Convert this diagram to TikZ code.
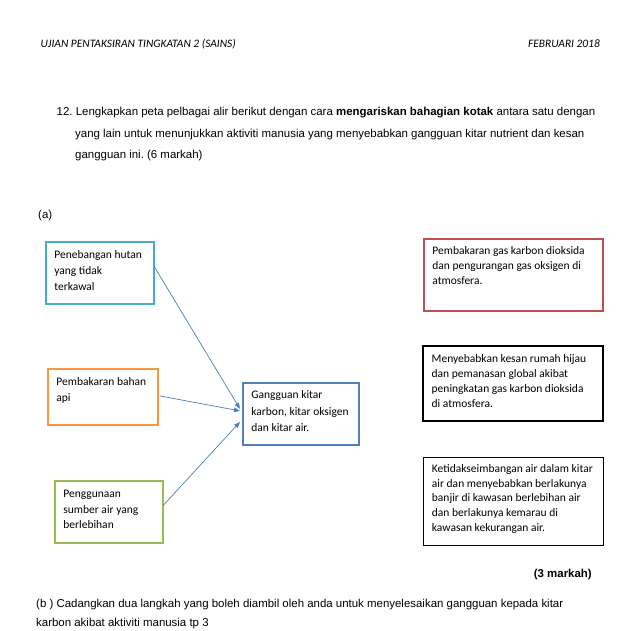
\documentclass[tikz,border=0pt]{standalone}
\usepackage{fontspec}
\setmainfont{Liberation Sans}
\newfontfamily\carlito{Carlito}
\usetikzlibrary{arrows.meta}
\frenchspacing
\definecolor{cteal}{HTML}{4BACC6}
\definecolor{corange}{HTML}{F79646}
\definecolor{cgreen}{HTML}{9BBB59}
\definecolor{cblue}{HTML}{4F81BD}
\definecolor{cred}{HTML}{C0504D}
\definecolor{carrow}{HTML}{4A7EBB}
% #1 height, #2 width, #3 baselineskip, #4 first baseline, #5 text
\newcommand{\boxtxt}[5]{\parbox[t][#1][t]{#2}{\carlito\fontsize{11.5}{#3}\selectfont\leftskip=8.5pt\rightskip=0pt plus 1fil\parindent=0pt\rule{0pt}{#4}#5\par}}
\begin{document}
\begin{tikzpicture}[x=1pt,y=-1pt,
  bx/.style={inner sep=0pt, anchor=north west},
  body/.style={anchor=base west, inner sep=0pt, font=\fontsize{11.45}{13}\selectfont},
  hdr/.style={inner sep=0pt, font=\carlito\itshape\fontsize{11.4}{13}\selectfont},
  conn/.style={draw=carrow, line width=0.7pt, -{Triangle[length=6pt,width=4.5pt]}}]
\useasboundingbox (0,0) rectangle (638,630);
% header
\node[hdr, anchor=base west] (hl) at (40.5,47) {UJIAN PENTAKSIRAN TINGKATAN 2 (SAINS)};
\node[hdr, anchor=base east] (hr) at (600,47) {FEBRUARI 2018};
% question
\node[body] (q1) at (56.5,115.5) {12. Lengkapkan peta pelbagai alir berikut dengan cara \textbf{mengariskan bahagian kotak} antara satu dengan};
\node[body] (q2) at (75,137) {yang lain untuk menunjukkan aktiviti manusia yang menyebabkan gangguan kitar nutrient dan kesan};
\node[body] (q3) at (75,158) {gangguan ini. (6 markah)};
\node[body] (pa) at (38,218) {(a)};
% left boxes
\node[bx, draw=cteal, line width=1.8pt] (b1) at (45,241) {\boxtxt{62pt}{108pt}{16pt}{17pt}{Penebangan hutan\\yang tidak\\terkawal}};
\node[bx, draw=corange, line width=1.8pt] (b2) at (47,368) {\boxtxt{56pt}{110pt}{16pt}{17pt}{Pembakaran bahan\\api}};
\node[bx, draw=cgreen, line width=1.8pt] (b3) at (54,480) {\boxtxt{62pt}{108pt}{15.5pt}{17pt}{Penggunaan\\sumber air yang\\berlebihan}};
% centre box
\node[bx, draw=cblue, line width=1.8pt] (c) at (242,382) {\boxtxt{62pt}{116pt}{16.5pt}{16pt}{Gangguan kitar\\karbon, kitar oksigen\\dan kitar air.}};
% right boxes
\node[bx, draw=cred, line width=1.8pt] (r1) at (423,238) {\boxtxt{72pt}{179pt}{15pt}{16pt}{Pembakaran gas karbon dioksida\\dan pengurangan gas oksigen di\\atmosfera.}};
\node[bx, draw=black, line width=2.4pt] (r2) at (422,345) {\boxtxt{75pt}{180pt}{15pt}{16pt}{Menyebabkan kesan rumah hijau\\dan pemanasan global akibat\\peningkatan gas karbon dioksida\\di atmosfera.}};
\node[bx, draw=black, line width=0.9pt] (r3) at (423,457) {\boxtxt{88pt}{180pt}{14.7pt}{15pt}{Ketidakseimbangan air dalam kitar\\air dan menyebabkan berlakunya\\banjir di kawasan berlebihan air\\dan berlakunya kemarau di\\kawasan kekurangan air.}};
% connectors
\draw[conn] ([xshift=-1pt,yshift=7pt]b1.east) -- ([xshift=-2pt,yshift=5pt]c.west);
\draw[conn] ([xshift=1pt,yshift=1pt]b2.east) -- ([xshift=-2pt,yshift=3pt]c.west);
\draw[conn] ([xshift=-1pt,yshift=6pt]b3.east) -- ([xshift=-2pt,yshift=-8pt]c.west);
% bottom texts
\node[body, anchor=base east, font=\bfseries\fontsize{11.45}{13}\selectfont] (m3) at (592,577) {(3 markah)};
\node[body] (b1t) at (36,607) {(b ) Cadangkan dua langkah yang boleh diambil oleh anda untuk menyelesaikan gangguan kepada kitar};
\node[body] (b2t) at (36,626) {karbon akibat aktiviti manusia tp 3};
\end{tikzpicture}
\end{document}
